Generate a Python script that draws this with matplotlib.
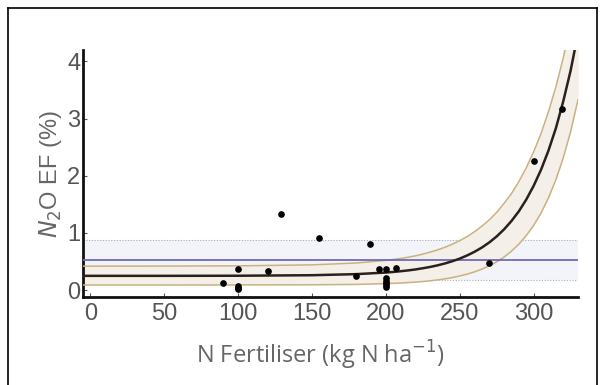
import matplotlib
matplotlib.use("Agg")
import matplotlib.pyplot as plt
from matplotlib.lines import Line2D

# ---- data ----
obs_n = [90, 100, 100, 100, 100, 120, 129, 155, 180, 189, 195, 200, 200, 200, 200, 200, 200, 207, 270, 300, 319]
obs_ef = [0.13, 0.37, 0.08, 0.04, 0.02, 0.34, 1.34, 0.92, 0.25, 0.81, 0.37, 0.37, 0.21, 0.16, 0.12, 0.09, 0.06, 0.39, 0.48, 2.25, 3.16]

curve_n = [-5, 0, 50, 100, 150, 180, 200, 205, 210, 215, 220, 225, 230, 235, 240, 245, 250,
           255, 260, 265, 270, 275, 280, 285, 290, 295, 300, 305, 310, 315, 320, 325, 330]
curve_mean = [0.25, 0.25, 0.25, 0.252, 0.261, 0.28, 0.308, 0.318, 0.331, 0.345, 0.362, 0.383, 0.406, 0.434, 0.467, 0.506, 0.552,
              0.607, 0.671, 0.746, 0.835, 0.94, 1.064, 1.21, 1.38, 1.585, 1.825, 2.107, 2.44, 2.83, 3.30, 3.84, 4.49]
curve_upper = [0.42, 0.42, 0.421, 0.425, 0.442, 0.475, 0.52, 0.536, 0.554, 0.576, 0.60, 0.63, 0.665, 0.704, 0.75, 0.804, 0.866,
               0.938, 1.022, 1.12, 1.23, 1.36, 1.52, 1.69, 1.90, 2.14, 2.42, 2.74, 3.12, 3.55, 4.06, 4.65, 5.33]
curve_lower = [0.09, 0.09, 0.09, 0.091, 0.094, 0.10, 0.114, 0.119, 0.125, 0.132, 0.141, 0.151, 0.164, 0.179, 0.198, 0.22, 0.248,
               0.28, 0.32, 0.368, 0.426, 0.495, 0.58, 0.682, 0.805, 0.954, 1.133, 1.35, 1.613, 1.93, 2.31, 2.77, 3.33]

ipcc_ef = 0.52
ipcc_low = 0.18
ipcc_high = 0.88

xticks = [0, 50, 100, 150, 200, 250, 300]
yticks = [0, 1, 2, 3, 4]

# ---- figure ----
fig = plt.figure(figsize=(6.05, 3.85), dpi=100)
ax = fig.add_axes([83/605, 1 - 297/385, (578-83)/605, (297-50)/385])

ax.set_xlim(-5, 330)
ax.set_ylim(-0.12, 4.2)

# IPCC band
ax.axhspan(ipcc_low, ipcc_high, color="#f2f4fa", zorder=0, lw=0)
ax.axhline(ipcc_low, color="#a8adbd", lw=0.8, ls=(0, (1, 1.5)), zorder=1)
ax.axhline(ipcc_high, color="#a8adbd", lw=0.8, ls=(0, (1, 1.5)), zorder=1)

# confidence band
ax.fill_between(curve_n, curve_lower, curve_upper, color="#f4efe8", lw=0, zorder=2)
ax.plot(curve_n, curve_upper, color="#c9b27e", lw=1.1, zorder=3)
ax.plot(curve_n, curve_lower, color="#c9b27e", lw=1.1, zorder=3)

ax.axhline(ipcc_ef, color="#6f6cb2", lw=1.3, zorder=3.5)

ax.plot(curve_n, curve_mean, color="#2b211c", lw=1.8, zorder=4)

ax.plot(obs_n, obs_ef, "o", color="black", ms=3.8, zorder=5)

for s in ["top", "right"]:
    ax.spines[s].set_visible(False)
for s in ["left", "bottom"]:
    ax.spines[s].set_linewidth(2)
    ax.spines[s].set_color("#111111")

ax.set_xticks(xticks)
ax.set_yticks(yticks)
ax.tick_params(axis="both", direction="in", length=3, width=0.8, colors="#555555",
               labelsize=17)
ax.tick_params(axis="x", pad=4)
ax.tick_params(axis="y", pad=2)
for lab in ax.get_xticklabels() + ax.get_yticklabels():
    lab.set_family("Liberation Sans")
    lab.set_color("#555555")

fig.text(320/605, 1 - 355/385, r"N Fertiliser (kg N ha$^{-1}$)", ha="center", va="center",
         fontsize=17, color="#666666", family="Open Sans")
fig.text(50/605, 1 - 174/385, r"$\mathit{N}_2$O EF (%)", rotation=90, ha="center", va="center",
         fontsize=17, color="#666666", family="Liberation Sans")

# outer frame
frame_kw = dict(color="black", lw=1.2, transform=fig.transFigure, clip_on=False)
fig.add_artist(Line2D([8/605, 597/605], [1 - 8/385, 1 - 8/385], **frame_kw))
fig.add_artist(Line2D([8/605, 8/605], [1 - 8/385, 0], **frame_kw))
fig.add_artist(Line2D([597/605, 597/605], [1 - 8/385, 0], **frame_kw))

fig.savefig("out.png", dpi=100)
